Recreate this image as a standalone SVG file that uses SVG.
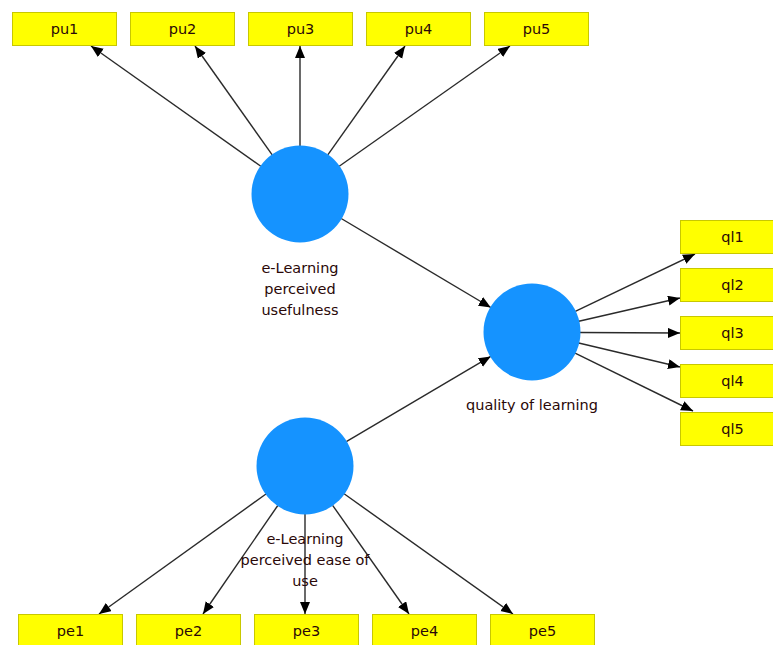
<svg xmlns="http://www.w3.org/2000/svg" width="773" height="645" viewBox="0 0 773 645">
<style>
.box{fill:#ffff00;stroke:#c8c800;stroke-width:1}
.lv{fill:#1593ff}
.bt{font-family:"DejaVu Sans",sans-serif;font-size:14.5px;fill:#2a0808;text-anchor:middle}
.lt{font-family:"DejaVu Sans",sans-serif;font-size:14.5px;fill:#2a0808;text-anchor:middle}
.cn{stroke:#2a2a2a;stroke-width:1.4;fill:none;marker-end:url(#ah)}
</style>
<defs>
<marker id="ah" markerUnits="userSpaceOnUse" markerWidth="14" markerHeight="12" refX="12" refY="5" orient="auto">
<path d="M0,0 L12,5 L0,10 Z" fill="#000"/>
</marker>
</defs>
<rect width="773" height="645" fill="#fff"/>
<g id="connectors">
<line class="cn" x1="260.8" y1="166.3" x2="91" y2="46"/>
<line class="cn" x1="272.2" y1="154.9" x2="195" y2="46"/>
<line class="cn" x1="300" y1="146" x2="300" y2="46"/>
<line class="cn" x1="327.8" y1="154.9" x2="405" y2="46"/>
<line class="cn" x1="339.2" y1="166.3" x2="510" y2="46"/>
<line class="cn" x1="575.3" y1="311.3" x2="695" y2="254"/>
<line class="cn" x1="578.8" y1="321.3" x2="680" y2="298"/>
<line class="cn" x1="580" y1="332.5" x2="680" y2="333"/>
<line class="cn" x1="578.7" y1="343" x2="680" y2="367"/>
<line class="cn" x1="575.1" y1="353.1" x2="693" y2="411"/>
<line class="cn" x1="266" y1="494" x2="99" y2="614"/>
<line class="cn" x1="277.8" y1="505.5" x2="203" y2="614"/>
<line class="cn" x1="305" y1="514" x2="305" y2="614"/>
<line class="cn" x1="332.6" y1="505.3" x2="409" y2="614"/>
<line class="cn" x1="344.1" y1="493.8" x2="513" y2="614"/>
<line class="cn" x1="341.2" y1="218.5" x2="490.8" y2="307.5"/>
<line class="cn" x1="346.3" y1="441.6" x2="490.7" y2="356.4"/>
</g>
<g id="pu">
<circle class="lv" cx="300" cy="194" r="48.5"/>
<text class="lt" x="300" y="273">e-Learning</text>
<text class="lt" x="300" y="294">perceived</text>
<text class="lt" x="300" y="315">usefulness</text>
</g>
<g id="ql">
<circle class="lv" cx="532" cy="332" r="48.5"/>
<text class="lt" x="532" y="410">quality of learning</text>
</g>
<g id="pe">
<circle class="lv" cx="305" cy="466" r="48.5"/>
<text class="lt" x="305" y="544">e-Learning</text>
<text class="lt" x="305" y="565">perceived ease of</text>
<text class="lt" x="305" y="586">use</text>
</g>
<g id="pu1"><rect class="box" x="12.5" y="12.5" width="104" height="33"/><text class="bt" x="64.5" y="34">pu1</text></g>
<g id="pu2"><rect class="box" x="130.5" y="12.5" width="104" height="33"/><text class="bt" x="182.5" y="34">pu2</text></g>
<g id="pu3"><rect class="box" x="248.5" y="12.5" width="104" height="33"/><text class="bt" x="300.5" y="34">pu3</text></g>
<g id="pu4"><rect class="box" x="366.5" y="12.5" width="104" height="33"/><text class="bt" x="418.5" y="34">pu4</text></g>
<g id="pu5"><rect class="box" x="484.5" y="12.5" width="104" height="33"/><text class="bt" x="536.5" y="34">pu5</text></g>
<g id="ql1"><rect class="box" x="680.5" y="220.5" width="104" height="33"/><text class="bt" x="732.5" y="242">ql1</text></g>
<g id="ql2"><rect class="box" x="680.5" y="268.5" width="104" height="33"/><text class="bt" x="732.5" y="290">ql2</text></g>
<g id="ql3"><rect class="box" x="680.5" y="316.5" width="104" height="33"/><text class="bt" x="732.5" y="338">ql3</text></g>
<g id="ql4"><rect class="box" x="680.5" y="364.5" width="104" height="33"/><text class="bt" x="732.5" y="386">ql4</text></g>
<g id="ql5"><rect class="box" x="680.5" y="412.5" width="104" height="33"/><text class="bt" x="732.5" y="434">ql5</text></g>
<g id="pe1"><rect class="box" x="18.5" y="614.5" width="104" height="33"/><text class="bt" x="70.5" y="636">pe1</text></g>
<g id="pe2"><rect class="box" x="136.5" y="614.5" width="104" height="33"/><text class="bt" x="188.5" y="636">pe2</text></g>
<g id="pe3"><rect class="box" x="254.5" y="614.5" width="104" height="33"/><text class="bt" x="306.5" y="636">pe3</text></g>
<g id="pe4"><rect class="box" x="372.5" y="614.5" width="104" height="33"/><text class="bt" x="424.5" y="636">pe4</text></g>
<g id="pe5"><rect class="box" x="490.5" y="614.5" width="104" height="33"/><text class="bt" x="542.5" y="636">pe5</text></g>
</svg>
